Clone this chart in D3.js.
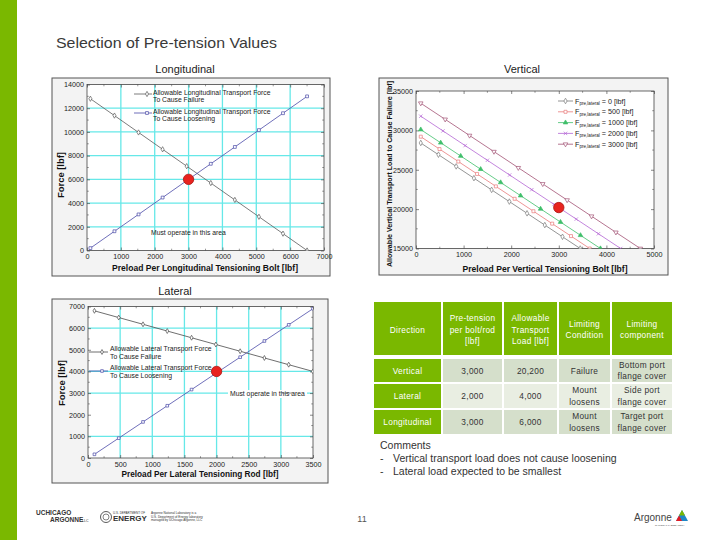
<!DOCTYPE html>
<html><head><meta charset="utf-8">
<script src="https://cdn.jsdelivr.net/npm/d3@7"></script>
<style>
body{margin:0;background:#fff;}
svg{display:block;font-family:"Liberation Sans",Arial,sans-serif;}
</style>
</head><body>
<svg id="s" width="720" height="540"></svg>
<script>
// ---------------- DATA ----------------
// Longitudinal chart
const longPreload   = [100, 811, 1522, 2233, 2944, 3656, 4367, 5078, 5789, 6500];
const longFailure   = [12800, 11378, 9956, 8534, 7112, 5688, 4266, 2844, 1422, 0];
const longLoosening = [200, 1622, 3044, 4466, 5888, 7312, 8734, 10156, 11578, 13000];
const longSelected  = [3000, 6000];
const longXTicks = [0, 1000, 2000, 3000, 4000, 5000, 6000, 7000];
const longYTicks = [0, 2000, 4000, 6000, 8000, 10000, 12000, 14000];

// Vertical chart (one series per lateral pre-load)
const vertLevels = ["0", "500", "1000", "2000", "3000"];
const vertPreload0    = [100, 472, 844, 1217, 1589, 1961, 2333, 2706, 3078, 3450];
const vertLoad0       = [28400, 26912, 25424, 23932, 22444, 20956, 19468, 17976, 16488, 15000];
const vertPreload500  = [100, 494, 889, 1283, 1678, 2072, 2467, 2861, 3256, 3650];
const vertLoad500     = [29200, 27624, 26044, 24468, 22888, 21312, 19732, 18156, 16576, 15000];
const vertPreload1000 = [100, 519, 939, 1358, 1778, 2197, 2617, 3036, 3456, 3875];
const vertLoad1000    = [30100, 28424, 26744, 25068, 23388, 21712, 20032, 18356, 16676, 15000];
const vertPreload2000 = [100, 567, 1033, 1500, 1967, 2433, 2900, 3367, 3833, 4300];
const vertLoad2000    = [31800, 29932, 28068, 26200, 24332, 22468, 20600, 18732, 16868, 15000];
const vertPreload3000 = [100, 613, 1125, 1638, 2150, 2663, 3175, 3688, 4200, 4713];
const vertLoad3000    = [33450, 31400, 29350, 27300, 25250, 23200, 21150, 19100, 17050, 15000];
const vertSelected = [3000, 20200];
const vertXTicks = [0, 1000, 2000, 3000, 4000, 5000];
const vertYTicks = [15000, 20000, 25000, 30000, 35000];

// Lateral chart
const latPreload   = [100, 478, 856, 1233, 1611, 1989, 2367, 2744, 3122, 3500];
const latFailure   = [6800, 6489, 6178, 5867, 5556, 5244, 4933, 4622, 4311, 4000];
const latLoosening = [170, 918, 1667, 2414, 3162, 3911, 4659, 5406, 6153, 6900];
const latSelected  = [2000, 4000];
const latXTicks = [0, 500, 1000, 1500, 2000, 2500, 3000, 3500];
const latYTicks = [0, 1000, 2000, 3000, 4000, 5000, 6000, 7000];

// Table
const tableHeader = [["Direction"], ["Pre-tension", "per bolt/rod", "[lbf]"], ["Allowable", "Transport", "Load [lbf]"], ["Limiting", "Condition"], ["Limiting", "component"]];
const tableDirection = ["Vertical", "Lateral", "Longitudinal"];
const tablePretension = ["3,000", "2,000", "3,000"];
const tableLoad = ["20,200", "4,000", "6,000"];
const tableCondition = [["Failure"], ["Mount", "loosens"], ["Mount", "loosens"]];
const tableComponent = [["Bottom port", "flange cover"], ["Side port", "flange cover"], ["Target port", "flange cover"]];

const comments = ["Comments", "Vertical transport load does not cause loosening", "Lateral load expected to be smallest"];

// ---------------- DRAWING ----------------
const svg = d3.select("#s");
const GREEN = "#7ab800";
const CYAN = "#66e8e8";

svg.append("rect").attr("x", 0).attr("y", 0).attr("width", 17).attr("height", 540).attr("fill", GREEN);

svg.append("text").attr("x", 56).attr("y", 48).attr("font-size", 14.5).attr("fill", "#3a3a3a")
  .attr("textLength", 221).attr("lengthAdjust", "spacingAndGlyphs")
  .text("Selection of Pre-tension Values");
svg.append("text").attr("x", 185).attr("y", 72.5).attr("font-size", 11).attr("fill", "#222").attr("text-anchor", "middle").text("Longitudinal");
svg.append("text").attr("x", 522).attr("y", 72.5).attr("font-size", 11).attr("fill", "#222").attr("text-anchor", "middle").text("Vertical");
svg.append("text").attr("x", 175).attr("y", 295).attr("font-size", 11).attr("fill", "#222").attr("text-anchor", "middle").text("Lateral");

function symbolPath(type, size) {
  return d3.symbol().type(type).size(size)();
}

function chart(c) {
  const g = svg.append("g");
  g.append("rect").attr("x", c.box[0]).attr("y", c.box[1]).attr("width", c.box[2]).attr("height", c.box[3])
    .attr("fill", "#f3f3f3").attr("stroke", "#555").attr("stroke-width", 1);
  const x = d3.scaleLinear().domain(c.xd).range([c.plot[0], c.plot[1]]);
  const y = d3.scaleLinear().domain(c.yd).range([c.plot[3], c.plot[2]]);
  const pw = c.plot[1] - c.plot[0], ph = c.plot[3] - c.plot[2];
  g.append("rect").attr("x", c.plot[0]).attr("y", c.plot[2]).attr("width", pw).attr("height", ph).attr("fill", "#fff");
  const clipId = "clip" + c.id;
  g.append("clipPath").attr("id", clipId).append("rect").attr("x", c.plot[0]).attr("y", c.plot[2]).attr("width", pw).attr("height", ph);

  g.selectAll(".gx").data(c.gridX || []).join("line")
    .attr("x1", d => x(d)).attr("x2", d => x(d)).attr("y1", c.plot[2]).attr("y2", c.plot[3])
    .attr("stroke", CYAN).attr("stroke-width", 1.3);
  g.selectAll(".gy").data(c.gridY || []).join("line")
    .attr("y1", d => y(d)).attr("y2", d => y(d)).attr("x1", c.plot[0]).attr("x2", c.plot[1])
    .attr("stroke", CYAN).attr("stroke-width", 1.3);

  const fmt = d3.format("d");
  function styleAxis(sel) {
    sel.attr("font-family", null).attr("font-size", 7.2);
    sel.select(".domain").remove();
    sel.selectAll("line").attr("stroke", "#555").attr("stroke-width", 0.7);
    sel.selectAll("text").attr("fill", "#222");
  }
  g.append("g").attr("transform", `translate(0,${c.plot[3]})`)
    .call(d3.axisBottom(x).tickValues(c.xt).tickSize(-3).tickPadding(3.5).tickFormat(fmt)).call(styleAxis);
  g.append("g").attr("transform", `translate(${c.plot[0]},0)`)
    .call(d3.axisLeft(y).tickValues(c.yt).tickSize(-3).tickPadding(3).tickFormat(fmt)).call(styleAxis);
  g.append("g").attr("transform", `translate(0,${c.plot[2]})`)
    .call(d3.axisTop(x).tickValues(c.xt).tickSize(-3).tickFormat("")).call(styleAxis);
  g.append("g").attr("transform", `translate(${c.plot[1]},0)`)
    .call(d3.axisRight(y).tickValues(c.yt).tickSize(-3).tickFormat("")).call(styleAxis);
  // minor ticks
  const xm = d3.range(0, c.xt.length - 1).map(i => (c.xt[i] + c.xt[i + 1]) / 2);
  const ym = d3.range(0, c.yt.length - 1).map(i => (c.yt[i] + c.yt[i + 1]) / 2);
  [["b", c.plot[3]], ["t", c.plot[2]]].forEach(([k, yy]) => {
    g.selectAll(".mx" + k).data(xm).join("line").attr("x1", d => x(d)).attr("x2", d => x(d))
      .attr("y1", yy).attr("y2", k === "b" ? yy - 1.8 : yy + 1.8).attr("stroke", "#555").attr("stroke-width", 0.6);
  });
  [["l", c.plot[0]], ["r", c.plot[1]]].forEach(([k, xx]) => {
    g.selectAll(".my" + k).data(ym).join("line").attr("y1", d => y(d)).attr("y2", d => y(d))
      .attr("x1", xx).attr("x2", k === "l" ? xx + 1.8 : xx - 1.8).attr("stroke", "#555").attr("stroke-width", 0.6);
  });
  g.append("rect").attr("x", c.plot[0]).attr("y", c.plot[2]).attr("width", pw).attr("height", ph)
    .attr("fill", "none").attr("stroke", "#444").attr("stroke-width", 0.8);

  // annotation
  if (c.note) {
    const t = g.append("text").attr("x", c.note.x).attr("y", c.note.y).attr("font-size", 6.8).attr("fill", "#222").text("Must operate in this area");
    if (c.note.bg) {
      const bb = t.node().getBBox();
      g.insert("rect", () => t.node()).attr("x", bb.x - 2).attr("y", bb.y).attr("width", bb.width + 4).attr("height", bb.height).attr("fill", "#fff");
    }
  }

  // series
  const sg = g.append("g").attr("clip-path", `url(#${clipId})`);
  c.series.forEach(s => {
    const pts = s.xs.map((v, i) => [v, s.ys[i]]);
    sg.append("path").datum(pts).attr("fill", "none").attr("stroke", s.color).attr("stroke-width", 0.8)
      .attr("d", d3.line().x(d => x(d[0])).y(d => y(d[1])));
    sg.selectAll(null).data(pts).join("path")
      .attr("transform", d => `translate(${x(d[0])},${y(d[1])})${s.rot ? " rotate(180)" : ""}`)
      .attr("d", symbolPath(s.symbol, s.size || 9))
      .attr("fill", s.fill || "#fff").attr("stroke", s.color).attr("stroke-width", 0.7);
  });

  // selected point
  g.append("circle").attr("cx", x(c.sel[0])).attr("cy", y(c.sel[1])).attr("r", 5.2)
    .attr("fill", "#e8231f").attr("stroke", "#a81410").attr("stroke-width", 0.8);

  // labels
  g.append("text").attr("x", c.xl.x).attr("y", c.xl.y).attr("text-anchor", "middle").attr("font-weight", "bold")
    .attr("font-size", c.xl.fs).attr("fill", "#111").attr("textLength", c.xl.len).attr("lengthAdjust", "spacingAndGlyphs").text(c.xl.text);
  g.append("text").attr("transform", `translate(${c.yl.x},${c.yl.y}) rotate(-90)`).attr("text-anchor", "middle").attr("font-weight", "bold")
    .attr("font-size", c.yl.fs).attr("fill", "#111").attr("textLength", c.yl.len).attr("lengthAdjust", "spacingAndGlyphs").text(c.yl.text);
  return {g, x, y};
}

// Longitudinal
const L = chart({
  id: "L", box: [52, 78, 278, 198], plot: [87, 324, 84.5, 250.5],
  xd: [0, 7000], yd: [0, 14000], xt: longXTicks, yt: longYTicks,
  gridX: [1000, 2000, 3000, 4000, 5000, 6000], gridY: [2000, 4000, 6000, 8000, 10000, 12000],
  series: [
    {xs: longPreload, ys: longFailure, color: "#5a5a5a", symbol: d3.symbolDiamond, size: 8},
    {xs: longPreload, ys: longLoosening, color: "#4a4aa8", symbol: d3.symbolSquare, size: 8}
  ],
  sel: longSelected, note: {x: 151, y: 235},
  xl: {x: 205, y: 271, fs: 9.5, len: 186, text: "Preload Per Longitudinal Tensioning Bolt  [lbf]"},
  yl: {x: 64, y: 175, fs: 9, len: 46, text: "Force [lbf]"}
});
// longitudinal legend
[
  {y: 94, color: "#5a5a5a", symbol: d3.symbolDiamond, lines: ["Allowable Longitudinal Transport Force", "To Cause Failure"]},
  {y: 113, color: "#4a4aa8", symbol: d3.symbolSquare, lines: ["Allowable Longitudinal Transport Force", "To Cause Loosening"]}
].forEach(e => {
  L.g.append("line").attr("x1", 134).attr("x2", 152).attr("y1", e.y).attr("y2", e.y).attr("stroke", e.color).attr("stroke-width", 0.8);
  L.g.append("path").attr("transform", `translate(147,${e.y})`).attr("d", symbolPath(e.symbol, 8)).attr("fill", "#fff").attr("stroke", e.color).attr("stroke-width", 0.7);
  e.lines.forEach((t, i) => L.g.append("text").attr("x", 153).attr("y", e.y + 0.5 + i * 7.5).attr("font-size", 6.8).attr("fill", "#222").text(t));
});

// Vertical
const vertColors = ["#7a7a7a", "#e87a7a", "#3fbf6a", "#b466d4", "#a25274"];
const vertSymbols = [d3.symbolDiamond, d3.symbolSquare, d3.symbolTriangle, d3.symbolTimes, d3.symbolTriangle];
const vertXs = [vertPreload0, vertPreload500, vertPreload1000, vertPreload2000, vertPreload3000];
const vertYs = [vertLoad0, vertLoad500, vertLoad1000, vertLoad2000, vertLoad3000];
const V = chart({
  id: "V", box: [379, 78, 289, 197], plot: [416, 654, 91, 248.5],
  xd: [0, 5000], yd: [15000, 35000], xt: vertXTicks, yt: vertYTicks,
  gridX: [], gridY: [],
  series: vertLevels.map((lv, i) => ({xs: vertXs[i], ys: vertYs[i], color: vertColors[i], symbol: vertSymbols[i], size: 9, rot: i === 4, fill: i === 2 ? vertColors[i] : "#fff"})),
  sel: vertSelected,
  xl: {x: 545, y: 272, fs: 9.5, len: 165, text: "Preload Per Vertical Tensioning Bolt [lbf]"},
  yl: {x: 392, y: 174, fs: 7.5, len: 186, text: "Allowable Vertical Transport Load to Cause Failure [lbf]"}
});
vertLevels.forEach((lv, i) => {
  const yy = 101 + i * 10.8;
  V.g.append("line").attr("x1", 558).attr("x2", 573).attr("y1", yy).attr("y2", yy).attr("stroke", vertColors[i]).attr("stroke-width", 0.8);
  V.g.append("path").attr("transform", `translate(565.5,${yy})${i === 4 ? " rotate(180)" : ""}`).attr("d", symbolPath(vertSymbols[i], 9))
    .attr("fill", i === 2 ? vertColors[i] : "#fff").attr("stroke", vertColors[i]).attr("stroke-width", 0.7);
  const t = V.g.append("text").attr("x", 575).attr("y", yy + 2.5).attr("font-size", 7.2).attr("fill", "#222");
  t.append("tspan").text("F");
  t.append("tspan").attr("font-size", 4.6).attr("dy", 1.5).text("pre,lateral");
  t.append("tspan").attr("dy", -1.5).text(` = ${lv} [lbf]`);
});

// Lateral
const T = chart({
  id: "T", box: [52, 299, 276, 184], plot: [88, 313, 306.5, 458],
  xd: [0, 3500], yd: [0, 7000], xt: latXTicks, yt: latYTicks,
  gridX: [500, 1000, 1500, 2000, 2500, 3000], gridY: [1000, 3000, 4000, 6000],
  series: [
    {xs: latPreload, ys: latFailure, color: "#4a4a4a", symbol: d3.symbolDiamond, size: 7},
    {xs: latPreload, ys: latLoosening, color: "#4a4aa8", symbol: d3.symbolSquare, size: 7}
  ],
  sel: latSelected, note: {x: 230, y: 396, bg: true},
  xl: {x: 200, y: 477, fs: 9, len: 157, text: "Preload Per Lateral Tensioning Rod [lbf]"},
  yl: {x: 65, y: 383, fs: 9, len: 46, text: "Force [lbf]"}
});
T.g.append("line").attr("x1", 282).attr("x2", 292).attr("y1", T.y(3000)).attr("y2", T.y(3000)).attr("stroke", "#555").attr("stroke-width", 0.7);
[
  {y: 352, color: "#4a4a4a", symbol: d3.symbolDiamond, lines: ["Allowable Lateral Transport Force", "To Cause Failure"]},
  {y: 371, color: "#4a4aa8", symbol: d3.symbolSquare, lines: ["Allowable Lateral Transport Force", "To Cause Loosening"]}
].forEach(e => {
  T.g.append("line").attr("x1", 89).attr("x2", 108).attr("y1", e.y).attr("y2", e.y).attr("stroke", e.color).attr("stroke-width", 0.8);
  T.g.append("path").attr("transform", `translate(102,${e.y})`).attr("d", symbolPath(e.symbol, 7)).attr("fill", "#fff").attr("stroke", e.color).attr("stroke-width", 0.7);
  e.lines.forEach((t, i) => T.g.append("text").attr("x", 110).attr("y", e.y - 1 + i * 7.8).attr("font-size", 6.8).attr("fill", "#222").text(t));
});

// ---------------- TABLE ----------------
const colX = [[374, 441], [443, 502], [504, 557], [559, 610], [612, 672]];
const rowY = [[302, 355], [359, 382], [384, 408], [410, 434]];
const bodyFill = ["#d5dfcb", "#e9eee2", "#d5dfcb"];
const tg = svg.append("g").attr("font-size", 8.3);
function cellText(cx, cy, lines, color) {
  const lh = 11.2;
  lines.forEach((t, i) => {
    tg.append("text").attr("x", cx).attr("y", cy + (i - (lines.length - 1) / 2) * lh + 3)
      .attr("text-anchor", "middle").attr("fill", color).attr("letter-spacing", 0.3).text(t);
  });
}
tableHeader.forEach((h, j) => {
  tg.append("rect").attr("x", colX[j][0]).attr("y", rowY[0][0]).attr("width", colX[j][1] - colX[j][0]).attr("height", rowY[0][1] - rowY[0][0]).attr("fill", GREEN);
  cellText((colX[j][0] + colX[j][1]) / 2, (rowY[0][0] + rowY[0][1]) / 2 + 1, h, "#fff");
});
tableDirection.forEach((d, i) => {
  const r = rowY[i + 1];
  const cells = [[d], [tablePretension[i]], [tableLoad[i]], tableCondition[i], tableComponent[i]];
  cells.forEach((lines, j) => {
    tg.append("rect").attr("x", colX[j][0]).attr("y", r[0]).attr("width", colX[j][1] - colX[j][0]).attr("height", r[1] - r[0])
      .attr("fill", j === 0 ? GREEN : bodyFill[i]);
    cellText((colX[j][0] + colX[j][1]) / 2, (r[0] + r[1]) / 2, lines, j === 0 ? "#fff" : "#333");
  });
});

// comments
svg.append("text").attr("x", 380).attr("y", 449).attr("font-size", 10.5).attr("fill", "#333").text(comments[0]);
comments.slice(1).forEach((c, i) => {
  svg.append("text").attr("x", 380).attr("y", 462 + i * 12.5).attr("font-size", 10.5).attr("fill", "#333").text("-");
  svg.append("text").attr("x", 393).attr("y", 462 + i * 12.5).attr("font-size", 10.5).attr("fill", "#333").text(c);
});

// ---------------- FOOTER ----------------
svg.append("text").attr("x", 362).attr("y", 522).attr("font-size", 9).attr("fill", "#555").attr("text-anchor", "middle").text("11");
const fg = svg.append("g").attr("fill", "#333");
fg.append("text").attr("x", 36).attr("y", 515).attr("font-size", 6.5).attr("font-weight", "bold").text("UCHICAGO");
fg.append("text").attr("x", 50).attr("y", 522).attr("font-size", 6.5).attr("font-weight", "bold").text("ARGONNE");
fg.append("text").attr("x", 82).attr("y", 522).attr("font-size", 3.5).text("LLC");
fg.append("circle").attr("cx", 106).attr("cy", 517).attr("r", 5.5).attr("fill", "none").attr("stroke", "#333").attr("stroke-width", 0.8);
fg.append("circle").attr("cx", 106).attr("cy", 517).attr("r", 3).attr("fill", "none").attr("stroke", "#333").attr("stroke-width", 0.6);
fg.append("text").attr("x", 113).attr("y", 514).attr("font-size", 3).text("U.S. DEPARTMENT OF");
fg.append("text").attr("x", 113).attr("y", 521).attr("font-size", 8).attr("font-weight", "bold").text("ENERGY");
["Argonne National Laboratory is a", "U.S. Department of Energy laboratory", "managed by UChicago Argonne, LLC"].forEach((t, i) =>
  fg.append("text").attr("x", 151).attr("y", 514 + i * 3.6).attr("font-size", 3.1).text(t));
svg.append("text").attr("x", 634).attr("y", 521).attr("font-size", 10).attr("fill", "#444").text("Argonne");
svg.append("text").attr("x", 655).attr("y", 526).attr("font-size", 2.5).attr("fill", "#444").text("NATIONAL LABORATORY");
svg.append("path").attr("d", "M682,510 L688,521 L676,521 Z").attr("fill", "#1f87c7");
svg.append("path").attr("d", "M682,510 L685,515.5 L679,515.5 Z").attr("fill", "#7ab800");
svg.append("path").attr("d", "M676,521 L679,515.5 L682,521 Z").attr("fill", "#e31b23");
</script>
</body></html>
